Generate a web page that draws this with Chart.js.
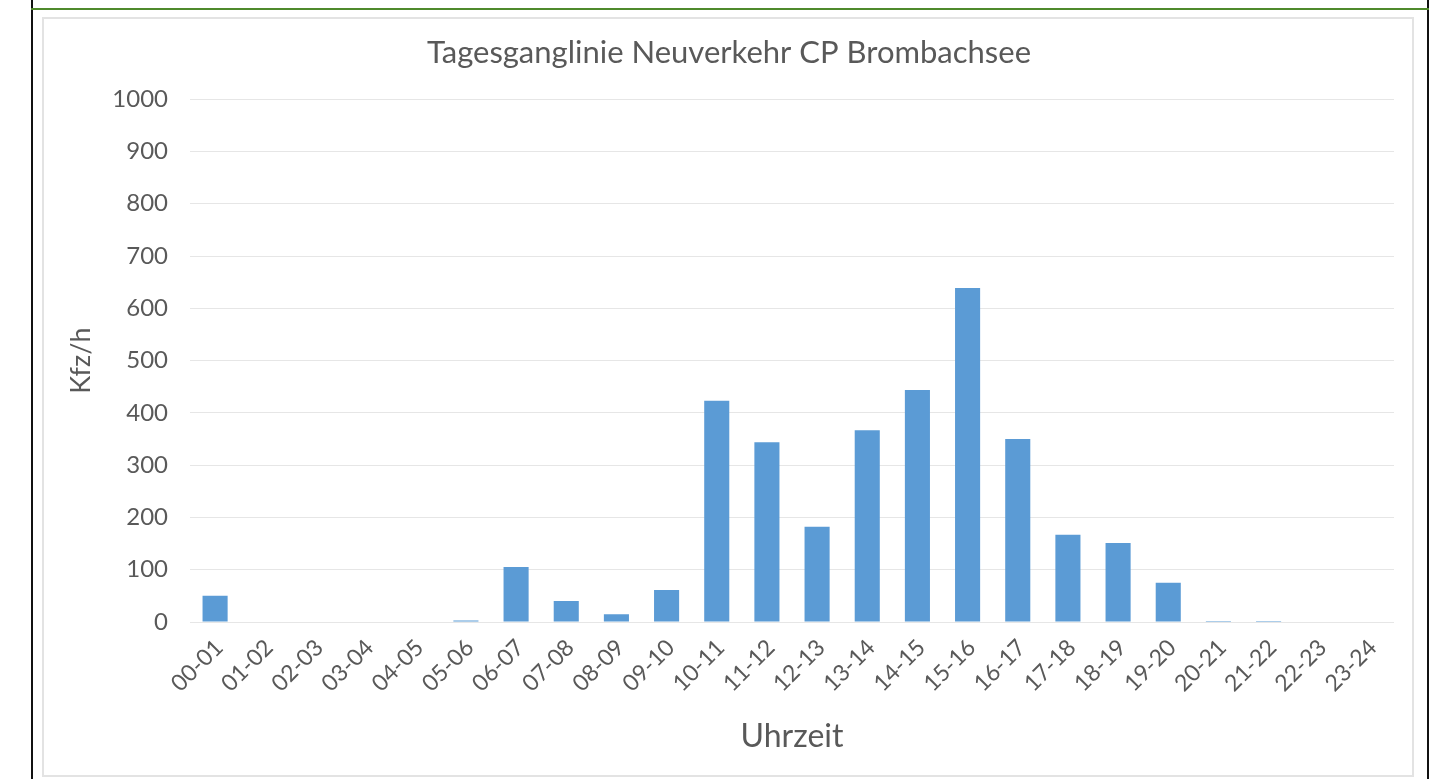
<!DOCTYPE html>
<html>
<head>
<meta charset="utf-8">
<script src="https://cdn.jsdelivr.net/npm/chart.js@4"></script>
<style>
  html, body { margin: 0; padding: 0; background: #fff; width: 1445px; height: 779px; overflow: hidden; }
  .frame { position: absolute; left: 31px; top: 0; width: 1394px; height: 779px;
           border-left: 2px solid #111; border-right: 2px solid #111; }
  .topline { position: absolute; left: 31px; top: 8px; width: 1398px; height: 2px; background: #4f8a2c; }
  .box { position: absolute; left: 42px; top: 17px; width: 1368px; height: 756px;
         border: 2px solid #e3e3e3; background: #fff; }
</style>
</head>
<body>
<div class="frame"></div>
<div class="topline"></div>
<div class="box"><canvas id="trafficChart" width="1368" height="756"></canvas></div>
<script>
const hours = ['00-01', '01-02', '02-03', '03-04', '04-05', '05-06', '06-07', '07-08',
    '08-09', '09-10', '10-11', '11-12', '12-13', '13-14', '14-15', '15-16',
    '16-17', '17-18', '18-19', '19-20', '20-21', '21-22', '22-23', '23-24'];
const vehicles = [50, 0, 0, 0, 0, 3, 105, 40, 15, 61, 423, 344, 182, 367, 444, 639,
    350, 167, 151, 75, 2, 2, 0, 0];
const chartTitle = 'Tagesganglinie Neuverkehr CP Brombachsee';
const yTitle = 'Kfz/h';
const xTitle = 'Uhrzeit';

const grey = '#595959';
const font = "Lato, 'Open Sans', sans-serif";

const ctx = document.getElementById('trafficChart').getContext('2d');
new Chart(ctx, {
    type: 'bar',
    data: {
        labels: hours,
        datasets: [{
            label: yTitle,
            data: vehicles,
            backgroundColor: '#5b9bd5',
            barPercentage: 0.5,
            categoryPercentage: 1.0
        }]
    },
    options: {
        responsive: false,
        animation: false,
        layout: { padding: { left: 20, right: 18, top: 0, bottom: 0 } },
        plugins: {
            legend: { display: false },
            tooltip: { enabled: false },
            title: {
                display: true,
                text: chartTitle,
                color: grey,
                font: { family: font, size: 31, weight: 'normal' },
                padding: { top: 15, bottom: 28 }
            }
        },
        scales: {
            x: {
                grid: { display: false },
                border: { display: false },
                ticks: {
                    color: grey,
                    font: { family: font, size: 23 },
                    minRotation: 45,
                    maxRotation: 45,
                    labelOffset: 4,
                    padding: 4
                },
                title: {
                    display: true,
                    text: xTitle,
                    color: grey,
                    font: { family: font, size: 32 },
                    padding: { top: 2, bottom: 19 }
                },
                afterFit: function (scale) { scale.height = 153; }
            },
            y: {
                min: 0,
                max: 1000,
                grid: { color: '#e6e6e6', lineWidth: 1, drawTicks: false },
                border: { display: false },
                ticks: {
                    stepSize: 100,
                    color: grey,
                    font: { family: font, size: 24 },
                    padding: 22,
                    callback: function (value) { return String(value); }
                },
                title: {
                    display: true,
                    text: yTitle,
                    color: grey,
                    font: { family: font, size: 27 },
                    padding: { top: 1, bottom: 8 }
                },
                afterFit: function (scale) { scale.width = 126; }
            }
        }
    }
});
</script>
</body>
</html>
